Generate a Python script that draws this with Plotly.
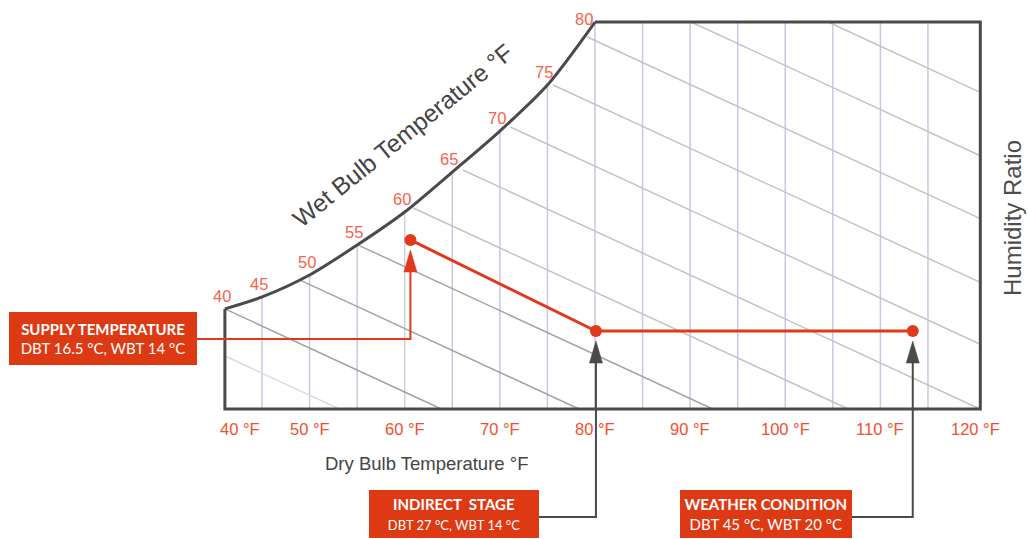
import plotly.graph_objects as go

# ---------------- data ----------------
dbt_ticks = [40, 50, 60, 70, 80, 90, 100, 110, 120]          # dry bulb tick values (°F)
dbt_tick_text = [f"{v} °F" for v in dbt_ticks]

DBT_MIN, DBT_MAX = 41.1, 120.5      # frame limits of the schematic chart (°F)
W_MAX = 22.0                        # humidity ratio at the top of the frame

# saturation curve (wet bulb = dry bulb), humidity ratio in schematic units
sat_dbt = [41.1, 45, 50, 55, 60, 65, 70, 75, 80]
sat_w = [5.69, 6.37, 7.62, 9.32, 11.20, 13.47, 15.80, 18.42, 22.0]
wb_labels = [40, 45, 50, 55, 60, 65, 70, 75, 80]

# vertical dry bulb grid lines
grid_dbt = [45, 50, 55, 60, 65, 70, 75, 80, 85, 90, 95, 100, 105, 110, 115]
grid_gray = [60]

# wet bulb lines: where each one leaves the frame / curve
wb_line_temp = [35, 40, 50, 55, 60, 65, 70, 75, 80, 85, 90]
wb_line_dbt = [41.1, 41.1, 49.0, 55.1, 60.9, 66.1, 71.1, 75.6, 79.2, 90.1, 104.5]
wb_line_w = [3.01, 5.69, 7.33, 9.32, 11.43, 13.59, 16.03, 18.42, 21.15, 22.0, 22.0]
wb_dark = [40, 50, 55]
wb_light = [35]
WB_SLOPE = 0.25

# process states
proc_names = ["SUPPLY TEMPERATURE", "INDIRECT&nbsp;&nbsp;STAGE", "WEATHER CONDITION"]
proc_desc = ["DBT 16.5 °C, WBT 14 °C", "DBT 27 °C, WBT 14 °C", "DBT 45 °C, WBT 20 °C"]
proc_dbt = [60.6, 80.1, 113.4]
proc_w = [9.61, 4.43, 4.43]

# ---------------- layout helpers ----------------
W, H = 1028, 539
SX0, SY0 = 9.514, 17.59      # px per °F, px per humidity unit
XR = [45 - 262 / SX0, 45 + (W - 262) / SX0]
YR = [-(H - 409) / SY0, 409 / SY0]
SX = W / (XR[1] - XR[0])
SY = H / (YR[1] - YR[0])


def dx(px):
    return XR[0] + px / W * (XR[1] - XR[0])


def dy(py):
    return YR[1] - py / H * (YR[1] - YR[0])


def pxp(px):
    return px / W


def pyp(py):
    return 1 - py / H


RED = "#e0391b"
BOXRED = "#dd3a14"
DARK = "#4a4a4a"
TICK = "#f0502e"
WBNUM = "#f4644e"
FONT = "Liberation Sans, Arial, sans-serif"

fig = go.Figure()

# vertical grid lines
def grid_top(g):
    return sat_w[sat_dbt.index(g)] if g in sat_dbt else W_MAX

for gray in (False, True):
    xs, ys = [], []
    for g in grid_dbt:
        if (g in grid_gray) != gray:
            continue
        xs += [g, g, None]
        ys += [0, grid_top(g), None]
    fig.add_trace(go.Scatter(x=xs, y=ys, mode="lines", hoverinfo="skip",
                             line=dict(color="#d2d2d2" if gray else "#cac7e6", width=1.5)))

# wet bulb lines
for t, x0, y0 in zip(wb_line_temp, wb_line_dbt, wb_line_w):
    xb = x0 + y0 / WB_SLOPE
    if xb <= DBT_MAX:
        x1, y1 = xb, 0
    else:
        x1, y1 = DBT_MAX, y0 - WB_SLOPE * (DBT_MAX - x0)
    col = "#a4a4a4" if t in wb_dark else ("#dcdcdc" if t in wb_light else "#c4c4c4")
    fig.add_trace(go.Scatter(x=[x0, x1], y=[y0, y1], mode="lines", hoverinfo="skip",
                             line=dict(color=col, width=1.5)))

# frame
fig.add_trace(go.Scatter(x=[sat_dbt[-1], DBT_MAX, DBT_MAX, DBT_MIN, DBT_MIN],
                         y=[W_MAX, W_MAX, 0, 0, sat_w[0]], mode="lines", hoverinfo="skip",
                         line=dict(color=DARK, width=3)))
fig.add_trace(go.Scatter(x=sat_dbt, y=sat_w, mode="lines", hoverinfo="skip",
                         line=dict(color=DARK, width=3, shape="spline", smoothing=0.8)))

# connectors (box -> state point)
GAP = 10 / SY
AH = 22 / SY
AW = 6.5 / SX
conn = [
    (dx(197), dy(339), RED),
    (dx(538.7), dy(517), DARK),
    (dx(851.5), dy(517), DARK),
]
for (bx, by, col), px_, pw in zip(conn, proc_dbt, proc_w):
    tip = pw - GAP
    fig.add_trace(go.Scatter(x=[bx, px_, px_], y=[by, by, tip - AH * 0.5], mode="lines",
                             hoverinfo="skip", line=dict(color=col, width=2)))
    fig.add_trace(go.Scatter(x=[px_, px_ - AW, px_ + AW, px_], y=[tip, tip - AH, tip - AH, tip],
                             mode="lines", fill="toself", fillcolor=col, hoverinfo="skip",
                             line=dict(color=col, width=0.5)))

# process line
fig.add_trace(go.Scatter(x=proc_dbt, y=proc_w, mode="lines+markers", hoverinfo="skip",
                         line=dict(color=RED, width=3),
                         marker=dict(color=RED, size=12)))

ann = []
# wet bulb numbers on saturation curve
for i, (x, y, t) in enumerate(zip(sat_dbt, sat_w, wb_labels)):
    last = i == len(sat_dbt) - 1
    ann.append(dict(x=x, y=y, text=str(t), showarrow=False,
                    xanchor="right" if last else "center",
                    yanchor="middle" if last else "bottom",
                    xshift=0 if last else -3, yshift=3 if last else 2,
                    font=dict(family=FONT, size=16.5, color=WBNUM)))

# dry bulb tick labels
for v, txt in zip(dbt_ticks, dbt_tick_text):
    xv = min(max(v, DBT_MIN), DBT_MAX)
    ann.append(dict(x=xv, y=0, text=txt, showarrow=False, xanchor="center", yanchor="top",
                    xshift=15 if v < DBT_MIN else 0, yshift=-9,
                    font=dict(family=FONT, size=16.5, color=TICK)))

# axis titles
ann.append(dict(xref="paper", yref="paper", x=pxp(426), y=pyp(463),
                xanchor="center", yanchor="middle",
                text="Dry Bulb Temperature °F", showarrow=False,
                font=dict(family=FONT, size=18.5, color="#444444")))
ann.append(dict(xref="paper", yref="paper", x=pxp(1013), y=pyp(218),
                xanchor="center", yanchor="middle",
                text="Humidity Ratio", showarrow=False, textangle=-90,
                font=dict(family=FONT, size=24, color="#4d4d4d")))
ann.append(dict(xref="paper", yref="paper", x=pxp(403), y=pyp(136),
                xanchor="center", yanchor="middle",
                text="Wet Bulb Temperature °F", showarrow=False, textangle=-39,
                font=dict(family=FONT, size=24.5, color="#444444")))

# callout boxes
boxes = [
    (103, 338.5, 188, 53, 15),
    (453.6, 514, 170, 48, 13),
    (765.7, 514, 171.5, 48, 15),
]
for (cx, cy, bw, bh, sub), name, desc in zip(boxes, proc_names, proc_desc):
    ann.append(dict(xref="paper", yref="paper", x=pxp(cx), y=pyp(cy),
                    xanchor="center", yanchor="middle", width=bw, height=bh,
                    borderpad=0, borderwidth=0, bgcolor=BOXRED, showarrow=False,
                    align="center", valign="middle",
                    text=f"<b>{name}</b><br><span style='font-size:{sub}px'>{desc}</span>",
                    font=dict(family="Lato, Open Sans, sans-serif", size=15, color="white")))

fig.update_layout(
    width=W, height=H,
    margin=dict(l=0, r=0, t=0, b=0),
    paper_bgcolor="white", plot_bgcolor="white",
    showlegend=False,
    hovermode=False,
    xaxis=dict(range=XR, visible=False, fixedrange=True),
    yaxis=dict(range=YR, visible=False, fixedrange=True),
    annotations=ann,
)

fig.write_html("out.html",
               config={"displayModeBar": False, "staticPlot": True},
               post_script="document.body.style.margin='0';document.body.style.overflow='hidden';")
